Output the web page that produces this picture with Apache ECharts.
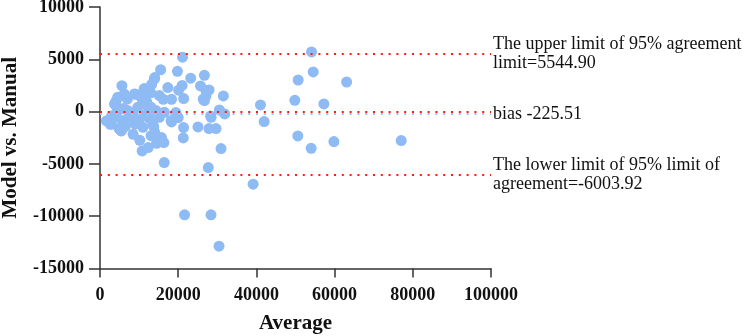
<!DOCTYPE html>
<html><head><meta charset="utf-8">
<script src="https://cdn.jsdelivr.net/npm/echarts@6/dist/echarts.min.js"></script>
<style>html,body{margin:0;padding:0;background:#fff}#c{width:744px;height:336px}</style>
</head><body><div id="c"></div>
<script>
// Bland-Altman data: [average, difference]
const pointsUpper = [
  [21100,5200],[15500,4000],[19800,3850],[23200,3200],[26700,3470],[14000,3250],[5600,2480],
  [11300,2200],[13200,2600],[13900,3100],[17350,2300],[21000,2500],[20100,2050],[25700,2450],
  [27900,2070],[27100,1500],[26400,1180],[21400,1250],[31550,1500],[9150,1650],[6200,1690],
  [8800,1690],[4500,1370],[4000,600],[11450,1180],[16160,1180],[18300,1180],[15200,1530],
  [10490,1370],[27130,2000],[26720,1050],[54100,5700],[54520,3790],[50680,3020],[63070,2830],
  [49830,1080],[57260,730],[41040,637],[3700,730],[11360,730],[4100,1000],[7000,1200],
  [13000,1800],[12000,900]
];
const pointsMiddle = [
  [30520,160],[31890,-223],[28300,-414],[28410,-545],[19400,-96],[20000,-573],[18300,-987],
  [4530,95],[7090,95],[9650,410],[13060,410],[11770,-225],[14330,95],[16480,-65],[7520,-545],
  [4100,-545],[15200,-545],[18180,-860],[19890,-545],[5810,-860],[1970,-860],[1625,-892],
  [2650,-1210],[41980,-955],[8500,-300],[10000,-800],[12500,-600],[6000,300],[3000,-400]
];
const pointsLower = [
  [21375,-1530],[25050,-1465],[27870,-1624],[29670,-1624],[13770,-1465],[14020,-2007],
  [8465,-2166],[10175,-2740],[15730,-2484],[16330,-2960],[14450,-3026],[21290,-2516],
  [30950,-3535],[12310,-3440],[10775,-3758],[16420,-4873],[27700,-5350],[39160,-6943],
  [21630,-9873],[28390,-9873],[30440,-12867],[50600,-2330],[54000,-3510],[59820,-2870],
  [77040,-2770],[5470,-1847],[2820,-1185],[13490,-1185],[13060,-2300],[5370,-1820],
  [6500,-1400],[9000,-1200],[11000,-1500],[4800,-1600]
];
const upperLimit = 5544.90;
const bias = -225.51;
const lowerLimit = -6003.92;
const zeroLine = 0;
const upperLabel = 'The upper limit of 95% agreement\nlimit=5544.90';
const biasLabel = 'bias -225.51';
const lowerLabel = 'The lower limit of 95% limit of\nagreement=-6003.92';
const xTicks = {min: 0, max: 100000, interval: 20000};
const yTicks = {min: -15000, max: 10000, interval: 5000};

const serif = "'Liberation Serif','Times New Roman',serif";
const chart = echarts.init(document.getElementById('c'));
const dotted = (color) => ({color: color, width: 2, type: [2, 5.8]});
const plain = (v) => String(v);
chart.setOption({
  animation: false,
  grid: {left: 100, right: 253, top: 7, bottom: 67.5, containLabel: false, outerBoundsMode: 'none'},
  xAxis: {
    type: 'value', min: xTicks.min, max: xTicks.max, interval: xTicks.interval,
    name: 'Average', nameLocation: 'middle', nameGap: 45,
    nameTextStyle: {fontFamily: serif, fontWeight: 'bold', fontSize: 21, color: '#111'},
    axisLine: {onZero: false, lineStyle: {color: '#333', width: 1.5}},
    axisTick: {show: true, length: 9, lineStyle: {color: '#333', width: 1.5}},
    axisLabel: {fontFamily: serif, fontWeight: 'bold', fontSize: 18, color: '#111', margin: 18, formatter: plain},
    splitLine: {show: false}
  },
  yAxis: {
    type: 'value', min: yTicks.min, max: yTicks.max, interval: yTicks.interval,
    name: 'Model vs. Manual', nameLocation: 'middle', nameGap: 79,
    nameTextStyle: {fontFamily: serif, fontWeight: 'bold', fontSize: 21, color: '#111'},
    axisLine: {show: true, lineStyle: {color: '#333', width: 1.5}},
    axisTick: {show: true, length: 11, lineStyle: {color: '#333', width: 1.5}},
    axisLabel: {fontFamily: serif, fontWeight: 'bold', fontSize: 18, color: '#111', margin: 16, formatter: plain},
    splitLine: {show: false}
  },
  series: [{
    type: 'scatter',
    data: pointsUpper.concat(pointsMiddle, pointsLower),
    symbolSize: 11,
    itemStyle: {color: '#8fbbf5', opacity: 1},
    z: 2,
    markLine: {
      silent: true, symbol: 'none', z: 3,
      label: {position: 'end', distance: 2, fontFamily: serif, fontSize: 18, lineHeight: 19, color: '#111', align: 'left'},
      data: [
        {yAxis: upperLimit, lineStyle: dotted('#ff1a1a'), label: {formatter: upperLabel}},
        {yAxis: bias, lineStyle: dotted('#9cc4f5'), label: {formatter: biasLabel, padding: [4, 0, 0, 0]}},
        {yAxis: zeroLine, lineStyle: dotted('#ff1a1a'), label: {show: false}},
        {yAxis: lowerLimit, lineStyle: dotted('#ff1a1a'), label: {formatter: lowerLabel, padding: [12, 0, 0, 0]}}
      ]
    }
  }]
});
</script></body></html>
